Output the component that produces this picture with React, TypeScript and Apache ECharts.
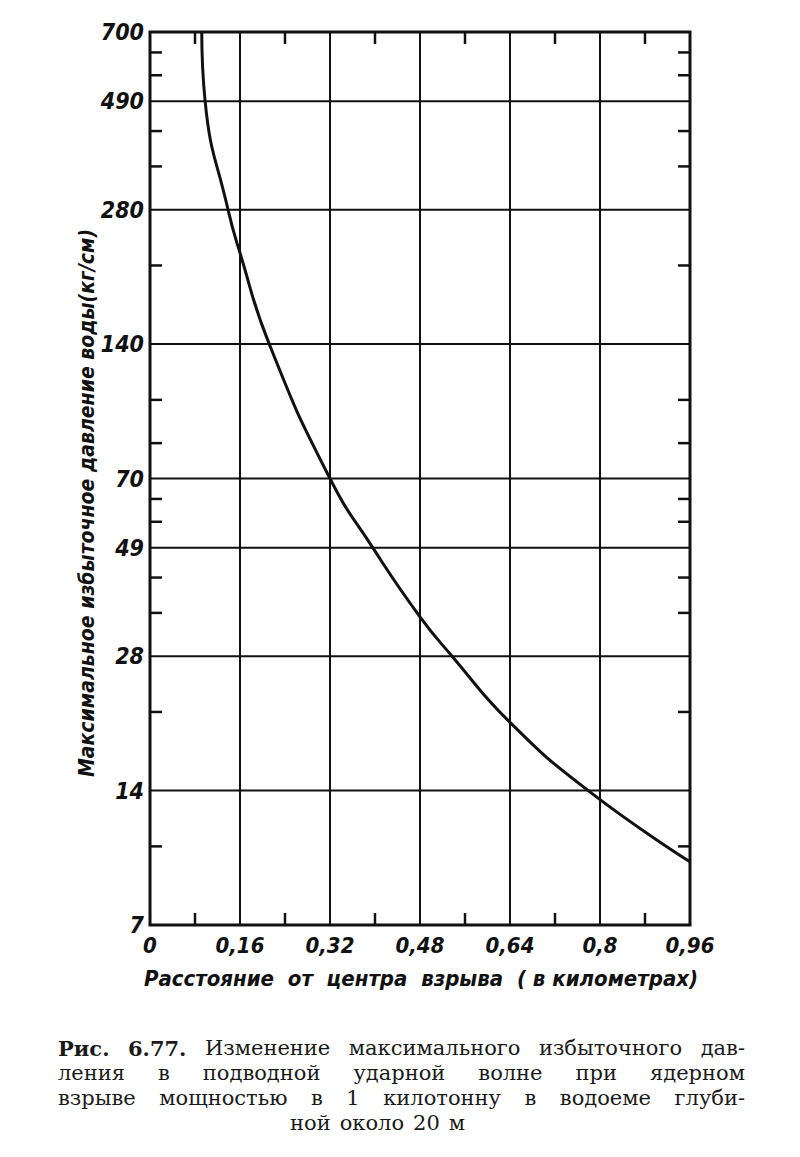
import React, { useEffect, useRef } from "react";
import * as echarts from "echarts";

// ---- data ----
const xMin = 0;
const xMax = 0.96;
const xInterval = 0.16;
const xMinorTicks = [0.08, 0.24, 0.4, 0.56, 0.72, 0.88];
const yMin = 7;
const yMax = 700;
const yMajorTicks = [7, 14, 28, 49, 70, 140, 280, 490, 700];
const yMinorTicks = [630, 560, 420, 350, 210, 105, 84, 63, 56, 42, 35, 21, 10.5];
const distanceKm = [0.092, 0.098, 0.1387, 0.16, 0.212, 0.32, 0.396, 0.48, 0.537, 0.64, 0.779, 0.96];
const pressure = [700, 490, 280, 224, 140, 70, 49, 34.3, 28, 19.9, 14, 9.7];

const yAxisTitle = "Максимальное избыточное давление воды(кг/см)";
const xAxisTitle = "Расстояние  от  центра  взрыва  ( в километрах)";
const captionLines = [
  { words: ["Рис.", "6.77.", "Изменение", "максимального", "избыточного", "дав-"], bold: 2, justify: true },
  { words: ["ления", "в", "подводной", "ударной", "волне", "при", "ядерном"], bold: 0, justify: true },
  { words: ["взрыве", "мощностью", "в", "1", "килотонну", "в", "водоеме", "глуби-"], bold: 0, justify: true },
  { words: ["ной", "около", "20", "м"], bold: 0, justify: false },
];

const LABEL_FAMILY = "'DejaVu Sans Condensed', 'DejaVu Sans', sans-serif";
const CAP_FONT_FAMILY = "'DejaVu Serif', 'Liberation Serif', serif";

export default function App() {
  const ref = useRef<HTMLDivElement>(null);
  useEffect(() => {
    document.body.style.margin = "0";
    if (!ref.current) return;
    const chart = echarts.init(ref.current, null, { renderer: "svg" });

    // caption layout (justified)
    const cv = document.createElement("canvas");
    const ctx = cv.getContext("2d")!;
    const capSize = 21;
    const capElems: any[] = [];
    const left = 58, right = 745;
    captionLines.forEach((line, li) => {
      const y = 1048 + li * 25;
      const fonts = line.words.map((_, i) =>
        (i < line.bold ? "bold " : "") + capSize + "px " + CAP_FONT_FAMILY
      );
      const widths = line.words.map((w, i) => {
        ctx.font = fonts[i];
        return ctx.measureText(w).width;
      });
      const total = widths.reduce((a, b) => a + b, 0);
      let gap: number;
      let x: number;
      let sx = 1;
      if (line.justify) {
        gap = (right - left - total) / (line.words.length - 1);
        if (gap < 7) {
          sx = (right - left - 7 * (line.words.length - 1)) / total;
          gap = 7;
        }
        x = left;
      } else {
        gap = 9;
        x = 290;
      }
      line.words.forEach((w, i) => {
        capElems.push({
          type: "text",
          x,
          y,
          scaleX: sx,
          style: {
            text: w,
            font: fonts[i],
            fill: "#1a1a1a",
            verticalAlign: "middle",
            align: "left",
          },
        });
        x += widths[i] * sx + gap;
      });
    });

    const option: any = {
      animation: false,
      backgroundColor: "#ffffff",
      grid: {
        left: 150,
        right: 110,
        top: 32,
        bottom: 232,
        show: true,
        borderColor: "#111",
        borderWidth: 3,
        backgroundColor: "transparent",
      },
      xAxis: {
        type: "value",
        min: xMin,
        max: xMax,
        interval: xInterval,
        axisLine: { show: false },
        axisTick: { show: false },
        splitLine: { show: true, lineStyle: { color: "#111", width: 2 } },
        axisLabel: {
          margin: 9,
          fontFamily: LABEL_FAMILY,
          fontSize: 22,
          fontStyle: "italic",
          fontWeight: "bold",
          color: "#111",
          formatter: (v: number) => (v === 0 ? "0" : String(+v.toFixed(2)).replace(".", ",")),
        },
      },
      yAxis: {
        type: "log",
        logBase: 10,
        min: yMin,
        max: yMax,
        axisLine: { show: false },
        axisTick: { show: false },
        axisLabel: { show: false },
        splitLine: { show: false },
        minorSplitLine: { show: false },
      },
      graphic: [
        {
          type: "text",
          x: 87,
          y: 503,
          rotation: Math.PI / 2,
          style: {
            text: yAxisTitle,
            font: "italic bold 21px " + LABEL_FAMILY,
            fill: "#111",
            align: "center",
            verticalAlign: "middle",
          },
        },
        {
          type: "text",
          x: 421,
          y: 978,
          style: {
            text: xAxisTitle,
            font: "italic bold 22px " + LABEL_FAMILY,
            fill: "#111",
            align: "center",
            verticalAlign: "middle",
          },
        },
        ...capElems,
      ],
      series: [
        {
          type: "custom",
          name: "ygrid",
          clip: false,
          z: 1,
          data: yMajorTicks.map((v) => [xMin, v]),
          encode: { x: 0, y: 1 },
          renderItem: (params: any, api: any) => {
            const v = api.value(1);
            const p0 = api.coord([xMin, v]);
            const p1 = api.coord([xMax, v]);
            return {
              type: "group",
              children: [
                {
                  type: "line",
                  shape: { x1: p0[0], y1: p0[1], x2: p1[0], y2: p1[1] },
                  style: { stroke: "#111", lineWidth: 2 },
                },
                {
                  type: "text",
                  x: p0[0] - 6,
                  y: p0[1],
                  style: {
                    text: String(v),
                    font: "italic bold 23px " + LABEL_FAMILY,
                    fill: "#111",
                    align: "right",
                    verticalAlign: "middle",
                  },
                },
              ],
            };
          },
        },
        {
          type: "custom",
          name: "yminor",
          clip: false,
          z: 1,
          data: yMinorTicks.map((v) => [xMin, v]),
          encode: { x: 0, y: 1 },
          renderItem: (params: any, api: any) => {
            const v = api.value(1);
            const p0 = api.coord([xMin, v]);
            const p1 = api.coord([xMax, v]);
            const L = 12;
            return {
              type: "group",
              children: [
                { type: "line", shape: { x1: p0[0], y1: p0[1], x2: p0[0] + L, y2: p0[1] }, style: { stroke: "#111", lineWidth: 2.5 } },
                { type: "line", shape: { x1: p1[0] - L, y1: p1[1], x2: p1[0], y2: p1[1] }, style: { stroke: "#111", lineWidth: 2.5 } },
              ],
            };
          },
        },
        {
          type: "custom",
          name: "xminor",
          clip: false,
          z: 1,
          data: xMinorTicks.map((v) => [v, yMin]),
          encode: { x: 0, y: 1 },
          renderItem: (params: any, api: any) => {
            const v = api.value(0);
            const p0 = api.coord([v, yMin]);
            const p1 = api.coord([v, yMax]);
            const L = 12;
            return {
              type: "group",
              children: [
                { type: "line", shape: { x1: p0[0], y1: p0[1], x2: p0[0], y2: p0[1] - L }, style: { stroke: "#111", lineWidth: 2.5 } },
                { type: "line", shape: { x1: p1[0], y1: p1[1], x2: p1[0], y2: p1[1] + L }, style: { stroke: "#111", lineWidth: 2.5 } },
              ],
            };
          },
        },
        {
          type: "line",
          name: "pressure",
          z: 3,
          data: distanceKm.map((x, i) => [x, pressure[i]]),
          smooth: 0.5,
          symbol: "none",
          lineStyle: { color: "#111", width: 3 },
        },
      ],
    };
    chart.setOption(option);
    return () => chart.dispose();
  }, []);
  return <div ref={ref} style={{ width: 800, height: 1157, background: "#fff" }} />;
}
